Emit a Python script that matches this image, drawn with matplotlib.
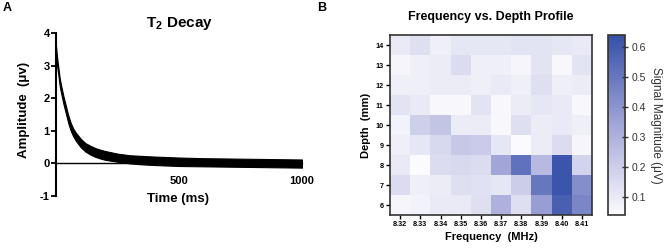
import matplotlib
matplotlib.use("Agg")
import matplotlib.pyplot as plt
import numpy as np
from matplotlib.colors import LinearSegmentedColormap

plt.rcParams['font.family'] = ['Liberation Sans', 'DejaVu Sans']
plt.rcParams['mathtext.fontset'] = 'custom'
plt.rcParams['mathtext.rm'] = 'Liberation Sans:bold'
plt.rcParams['mathtext.default'] = 'rm'
plt.rcParams['axes.unicode_minus'] = False

t_ms = [0, 2, 5, 10, 15, 20, 30, 40, 50, 60, 70, 80, 100, 120, 140, 160, 180,
        200, 250, 300, 350, 400, 500, 600, 700, 800, 900, 1000]
amp_upper = [3.60, 3.42, 3.22, 2.92, 2.62, 2.42, 2.07, 1.77, 1.47, 1.24, 1.07, 0.95,
             0.76, 0.62, 0.54, 0.47, 0.42, 0.38, 0.30, 0.25, 0.23, 0.21, 0.18, 0.16,
             0.15, 0.14, 0.13, 0.12]
amp_lower = [3.25, 3.15, 2.96, 2.68, 2.38, 2.18, 1.83, 1.53, 1.23, 1.00, 0.83, 0.70,
             0.50, 0.36, 0.27, 0.20, 0.15, 0.11, 0.05, 0.00, -0.03, -0.05, -0.08, -0.09,
             -0.10, -0.11, -0.12, -0.13]

# Panel B: frequency vs depth heatmap (rows listed from 14 mm down to 6 mm)
freq_labels = ['8.32', '8.33', '8.34', '8.35', '8.36', '8.37', '8.38', '8.39', '8.40', '8.41']
depths = [14, 13, 12, 11, 10, 9, 8, 7, 6]
signal = [
    [0.10, 0.14, 0.08, 0.11, 0.11, 0.11, 0.12, 0.12, 0.11, 0.10],
    [0.06, 0.08, 0.09, 0.15, 0.08, 0.08, 0.06, 0.12, 0.05, 0.12],
    [0.08, 0.08, 0.09, 0.09, 0.08, 0.10, 0.08, 0.14, 0.08, 0.09],
    [0.12, 0.10, 0.05, 0.05, 0.12, 0.05, 0.09, 0.11, 0.10, 0.05],
    [0.07, 0.19, 0.23, 0.09, 0.09, 0.05, 0.14, 0.09, 0.10, 0.08],
    [0.08, 0.11, 0.16, 0.22, 0.21, 0.11, 0.04, 0.09, 0.15, 0.06],
    [0.10, 0.04, 0.15, 0.16, 0.15, 0.34, 0.52, 0.27, 0.62, 0.18],
    [0.15, 0.08, 0.09, 0.14, 0.13, 0.11, 0.20, 0.50, 0.62, 0.42],
    [0.06, 0.07, 0.10, 0.10, 0.14, 0.30, 0.14, 0.37, 0.58, 0.45],
]

fig = plt.figure(figsize=(6.68, 2.5), dpi=100)

# ---- panel A
ax1 = fig.add_axes([56/668, 1-196/250, 246/668, 163/250])
ax1.fill_between(t_ms, amp_lower, amp_upper, color='black', lw=0.8)
ax1.set_xlim(0, 1000)
ax1.set_ylim(-1, 4)
ax1.spines['top'].set_visible(False)
ax1.spines['right'].set_visible(False)
ax1.spines['bottom'].set_position(('data', 0))
ax1.spines['bottom'].set_linewidth(1.0)
ax1.spines['left'].set_linewidth(1.5)
ax1.set_xticks([500, 1000])
ax1.set_yticks([-1, 0, 1, 2, 3, 4])
ax1.tick_params(axis='x', length=0, pad=9, labelsize=8)
ax1.tick_params(axis='y', length=3.5, width=1.3, pad=1, labelsize=8)
for lab in ax1.get_xticklabels() + ax1.get_yticklabels():
    lab.set_fontweight('bold')
ax1.set_title(r'T$_2$ Decay', fontsize=11, fontweight='bold', pad=4)
ax1.set_xlabel('Time (ms)', fontsize=9.5, fontweight='bold', va='top')
ax1.xaxis.set_label_coords(0.496, 0.02)
ax1.set_ylabel('Amplitude  (μv)', fontsize=9.5, fontweight='bold')
ax1.yaxis.set_label_coords(-0.106, 0.53)

# ---- panel B
cmap = LinearSegmentedColormap.from_list('sig', ['#fbfbfe', '#a3a6d8', '#3450a8'])
ax2 = fig.add_axes([390/668, 1-215/250, 202/668, 180/250])
im = ax2.imshow(np.array(signal), cmap=cmap, vmin=0.04, vmax=0.64,
                aspect='auto', interpolation='nearest')
ax2.set_xticks(range(len(freq_labels)))
ax2.set_xticklabels(freq_labels)
ax2.set_yticks(range(len(depths)))
ax2.set_yticklabels([str(d) for d in depths])
ax2.tick_params(axis='both', length=3, width=1.0, pad=1.5, labelsize=5.2)
for lab in ax2.get_xticklabels() + ax2.get_yticklabels():
    lab.set_fontweight('bold')
for sp in ax2.spines.values():
    sp.set_linewidth(1.2)
    sp.set_color('#333333')
ax2.set_title('Frequency vs. Depth Profile', fontsize=9, fontweight='bold', pad=11)
ax2.set_xlabel('Frequency  (MHz)', fontsize=8, fontweight='bold', labelpad=3)
ax2.set_ylabel('Depth  (mm)', fontsize=8, fontweight='bold', labelpad=3)

cax = fig.add_axes([608/668, 1-215/250, 17/668, 180/250])
cb = fig.colorbar(im, cax=cax, ticks=[0.1, 0.2, 0.3, 0.4, 0.5, 0.6])
cb.outline.set_linewidth(1.2)
cb.outline.set_edgecolor('#333333')
cax.tick_params(direction='inout', length=5, width=1.0, labelsize=7.5, pad=2, colors='#333333')
cb.set_label('Signal Magnitude (μV)', rotation=270, fontsize=8.5, color='#333333', labelpad=12)

fig.text(7/668, 1-8/250, 'A', fontsize=9, fontweight='bold', ha='center', va='center')
fig.text(322/668, 1-8/250, 'B', fontsize=9, fontweight='bold', ha='center', va='center')

fig.savefig('out.png', dpi=100)
